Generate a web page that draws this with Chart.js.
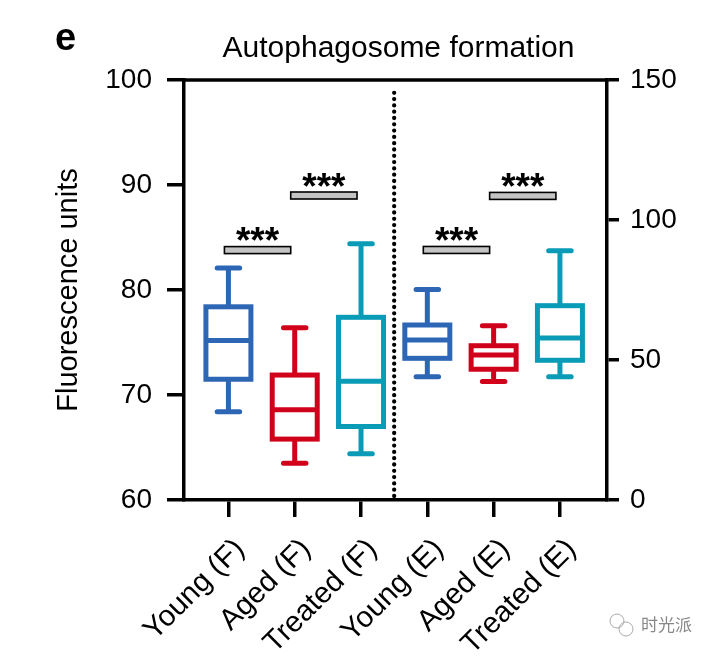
<!DOCTYPE html>
<html>
<head>
<meta charset="utf-8">
<script src="https://cdn.jsdelivr.net/npm/chart.js@4"></script>
<style>html,body{margin:0;padding:0;background:#fff}canvas{display:block}</style>
</head>
<body>
<canvas id="chart" width="714" height="656"></canvas>
<script>
// values; F groups on the left axis, E groups on the right axis
const categories  = ['Young (F)','Aged (F)','Treated (F)','Young (E)','Aged (E)','Treated (E)'];
const whiskerLow  = [68.4, 63.5, 64.4, 44.0, 42.3, 44.0];
const quartile1   = [71.5, 65.8, 67.0, 50.6, 46.7, 49.9];
const medians     = [75.2, 68.6, 71.3, 57.1, 51.8, 57.9];
const quartile3   = [78.4, 71.9, 77.4, 62.5, 55.1, 69.4];
const whiskerHigh = [82.1, 76.4, 84.4, 75.2, 62.2, 89.0];
const fGroups = [0, 1, 2];
const eGroups = [3, 4, 5];
const leftTicks  = [60, 70, 80, 90, 100];
const rightTicks = [0, 50, 100, 150];
// significance brackets: from group, to group, level (in that side's axis units)
const sigFrom  = [0, 1, 3, 4];
const sigTo    = [1, 2, 4, 5];
const sigLevel = [83.8, 89.0, 89.3, 108.6];
const sigAxis  = ['y', 'y', 'y2', 'y2'];
const sigLabel = ['***', '***', '***', '***'];

const colors = ['#2e66b6', '#d0021b', '#0a9bb6', '#2e66b6', '#d0021b', '#0a9bb6'];
const FONT = '"Liberation Sans", Arial, Helvetica, sans-serif';

const boxPlot = {
  id: 'boxPlot',
  afterDatasetsDraw(chart){
    const { ctx, chartArea: a, scales } = chart;
    const x = scales.x;
    ctx.save();
    // top frame line
    ctx.strokeStyle = '#000'; ctx.lineWidth = 3.5; ctx.lineCap = 'butt';
    ctx.beginPath(); ctx.moveTo(a.left - 1.75, a.top); ctx.lineTo(a.right + 1.75, a.top); ctx.stroke();
    // dotted separator between F and E
    const xs = x.getPixelForValue(2.5);
    ctx.setLineDash([0, 6.3]); ctx.lineCap = 'round'; ctx.lineWidth = 4.3;
    ctx.beginPath(); ctx.moveTo(xs, a.bottom - 4); ctx.lineTo(xs, a.top + 10); ctx.stroke();
    ctx.setLineDash([]);
    // boxes and whiskers
    chart.data.datasets.forEach((ds, d) => {
      const ys = scales[ds.yAxisID];
      const px = v => ys.getPixelForValue(v);
      chart.getDatasetMeta(d).data.forEach((el, k) => {
        const i = ds.data[k].x;
        const cx = el.x, half = el.width / 2 - 2.5, cw = half * 0.5;
        ctx.strokeStyle = colors[i]; ctx.lineWidth = 5;
        ctx.lineCap = 'butt';
        ctx.beginPath();
        ctx.moveTo(cx, px(whiskerHigh[i])); ctx.lineTo(cx, px(quartile3[i]));
        ctx.moveTo(cx, px(quartile1[i])); ctx.lineTo(cx, px(whiskerLow[i]));
        ctx.stroke();
        ctx.lineCap = 'round';
        ctx.beginPath();
        ctx.moveTo(cx - cw, px(whiskerHigh[i])); ctx.lineTo(cx + cw, px(whiskerHigh[i]));
        ctx.moveTo(cx - cw, px(whiskerLow[i])); ctx.lineTo(cx + cw, px(whiskerLow[i]));
        ctx.stroke();
        ctx.lineCap = 'butt'; ctx.lineJoin = 'miter';
        ctx.strokeRect(cx - half, px(quartile3[i]), 2 * half, px(quartile1[i]) - px(quartile3[i]));
        ctx.beginPath(); ctx.moveTo(cx - half, px(medians[i])); ctx.lineTo(cx + half, px(medians[i])); ctx.stroke();
      });
    });
    // significance bars
    sigFrom.forEach((f, s) => {
      const yy = scales[sigAxis[s]].getPixelForValue(sigLevel[s]);
      const x1 = x.getPixelForValue(f) - 4, x2 = x.getPixelForValue(sigTo[s]) - 4;
      ctx.fillStyle = '#c4c4c4'; ctx.strokeStyle = '#000'; ctx.lineWidth = 1.6;
      ctx.fillRect(x1, yy - 3.5, x2 - x1, 7); ctx.strokeRect(x1, yy - 3.5, x2 - x1, 7);
      ctx.fillStyle = '#000'; ctx.font = 'bold 37px ' + FONT;
      ctx.textAlign = 'center'; ctx.textBaseline = 'alphabetic';
      ctx.fillText(sigLabel[s], (x1 + x2) / 2, yy + 3);
    });
    ctx.restore();
  },
  afterDraw(chart){
    const { ctx, chartArea: a } = chart;
    ctx.save();
    ctx.fillStyle = '#000'; ctx.textBaseline = 'alphabetic';
    ctx.font = 'bold 38px ' + FONT; ctx.textAlign = 'left';
    ctx.fillText('e', 55, 50);
    ctx.font = '30px ' + FONT; ctx.textAlign = 'center';
    ctx.fillText('Autophagosome formation', (a.left + a.right) / 2 + 3, 57);
    // watermark
    ctx.strokeStyle = '#aaa'; ctx.lineWidth = 1;
    ctx.beginPath(); ctx.arc(617, 621, 7, 0, Math.PI * 2); ctx.stroke();
    ctx.beginPath(); ctx.arc(626, 629, 7, 0, Math.PI * 2); ctx.stroke();
    ctx.fillStyle = '#888'; ctx.font = '17px "Noto Sans CJK SC", sans-serif'; ctx.textAlign = 'left';
    ctx.textBaseline = 'middle';
    ctx.fillText('时光派', 641, 625);
    ctx.restore();
  }
};

const axisGrid = (len) => ({ display: true, offset: false, drawOnChartArea: false, drawTicks: true, tickLength: len, lineWidth: 3.5, color: '#000' });
const axisBorder = { display: true, width: 3.5, color: '#000' };

new Chart(document.getElementById('chart'), {
  type: 'bar',
  data: {
    datasets: [
      { label: 'F', yAxisID: 'y', data: fGroups.map(i => ({ x: i, y: [quartile1[i], quartile3[i]] })),
        backgroundColor: 'rgba(0,0,0,0)', borderWidth: 0, barThickness: 50, grouped: false },
      { label: 'E', yAxisID: 'y2', data: eGroups.map(i => ({ x: i, y: [quartile1[i], quartile3[i]] })),
        backgroundColor: 'rgba(0,0,0,0)', borderWidth: 0, barThickness: 50, grouped: false }
    ]
  },
  options: {
    responsive: false, animation: false, devicePixelRatio: 1,
    layout: { padding: { left: 48, right: 0, top: 80, bottom: 0 } },
    plugins: { legend: { display: false }, tooltip: { enabled: false } },
    scales: {
      x: {
        type: 'linear', position: 'bottom', min: -0.67, max: 5.71, offset: false,
        grid: axisGrid(17), border: axisBorder,
        ticks: {
          stepSize: 1, includeBounds: false, autoSkip: false, minRotation: 45, maxRotation: 45,
          padding: 15, labelOffset: 11.5, color: '#000', font: { family: FONT, size: 29.5 },
          callback: v => Number.isInteger(v) ? categories[v] : ''
        },
        afterFit: s => { s.height = 156; }
      },
      y: {
        type: 'linear', position: 'left', min: leftTicks[0], max: leftTicks[leftTicks.length - 1],
        grid: axisGrid(17), border: axisBorder,
        ticks: { stepSize: leftTicks[1] - leftTicks[0], padding: 15, color: '#000', font: { family: FONT, size: 28 } },
        title: { display: true, text: 'Fluorescence units', color: '#000', font: { family: FONT, size: 29 }, padding: { top: 4, bottom: 4 } },
        afterFit: s => { s.width = 136; }
      },
      y2: {
        type: 'linear', position: 'right', min: rightTicks[0], max: rightTicks[rightTicks.length - 1],
        grid: axisGrid(12), border: axisBorder,
        ticks: { stepSize: rightTicks[1] - rightTicks[0], padding: 11, color: '#000', font: { family: FONT, size: 28 } },
        afterFit: s => { s.width = 107; }
      }
    }
  },
  plugins: [boxPlot]
});
</script>
</body>
</html>
